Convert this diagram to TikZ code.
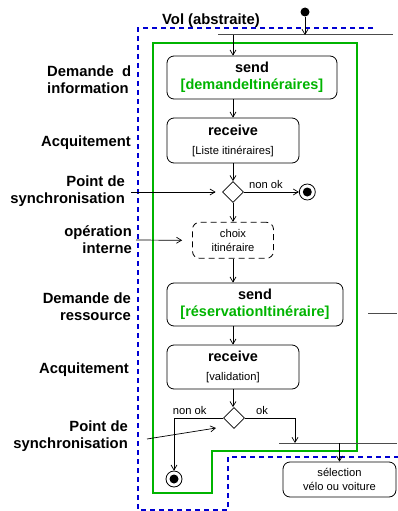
\documentclass[tikz,border=0pt]{standalone}
\usepackage{fontspec}
\setmainfont{Liberation Sans}
\usetikzlibrary{positioning}
\usetikzlibrary{shapes.geometric}
\usetikzlibrary{arrows.meta}
\definecolor{umlgreen}{RGB}{0,180,0}
\definecolor{umlblue}{RGB}{0,0,210}

\begin{document}
\begin{tikzpicture}[x=1pt, y=-1pt,
    every node/.style={inner sep=0pt},
    action/.style={draw, rounded corners=7pt, line width=0.8pt, align=center, font=\fontsize{14.5}{17}\selectfont},
    choice/.style={draw, diamond, minimum width=21pt, minimum height=21pt, line width=0.8pt},
    final/.style={draw, circle, minimum size=16pt, line width=0.8pt, path picture={\fill (path picture bounding box.center) circle (4.5pt);}},
    initial/.style={fill, circle, minimum size=9pt},
    flow/.style={-{Straight Barb[length=5pt,width=6pt]}, line width=0.7pt},
    bar/.style={draw=black!70, line width=1pt},
    lbl/.style={font=\fontsize{14.8}{17}\selectfont\bfseries, align=right, anchor=east},
    note/.style={font=\fontsize{11.2}{14}\selectfont},
    frame/.style={umlgreen, line width=2.5pt},
    swim/.style={umlblue, line width=2.6pt, dash pattern=on 5pt off 4pt}]

    \useasboundingbox (0,0) rectangle (398,511);

    % partitions
    \draw[swim] (373,28) -- (138,28) -- (138,510) -- (228,510) -- (228,457) -- (398,457);
    \draw[frame] (153,43) -- (357,43) -- (357,451) -- (212,451) -- (212,493) -- (153,493) -- cycle;
    \node[font=\fontsize{14.8}{17}\selectfont\bfseries] (vol) at (211,21) {Vol (abstraite)};

    % activity
    \node[initial] (start) at (305,12) {};
    \node[action, minimum width=170pt, minimum height=43pt] (send1) at (252,77.5)
        {\textbf{send}\\{\color{umlgreen}\bfseries [demandeItinéraires]}};
    \node[action, minimum width=132pt, minimum height=45pt] (recv1) at (233,140.5)
        {\textbf{receive}\\[2pt]{\fontsize{11.2}{13}\selectfont [Liste itinéraires]}};
    \node[choice] (d1) at (233,192) {};
    \node[final, right=55pt of d1] (f1) {};
    \node[action, note, dash pattern=on 6pt off 4pt, minimum width=81pt, minimum height=36pt,
        below=19pt of d1] (choix) {choix\\itinéraire};
    \node[action, minimum width=176pt, minimum height=43pt] (send2) at (255,304.5)
        {\textbf{send}\\{\color{umlgreen}\bfseries [réservationItinéraire]}};
    \node[action, minimum width=132pt, minimum height=44pt] (recv2) at (233,367)
        {\textbf{receive}\\[2pt]{\fontsize{11.2}{13}\selectfont [validation]}};
    \node[choice] (d2) at (234,418) {};
    \node[final] (f2) at (174,479) {};
    \node[action, note, minimum width=113pt, minimum height=35pt] (sel) at (339.5,479.5)
        {sélection\\vélo ou voiture};

    % bars
    \coordinate (b1l) at (218,35);
    \coordinate (b1r) at (393,35);
    \coordinate (b2l) at (279,443);
    \coordinate (b2r) at (397,443);
    \coordinate (b2in) at (295,443);
    \draw[bar] (b1l) -- (b1r);
    \draw[bar] (b2l) -- (b2r);
    \draw[bar] (368,313) -- (397,313);

    \draw[flow] (start) -- (start |- b1l);
    \draw[flow] (b1l -| recv1.north) -- (recv1.north |- send1.north);
    \draw[flow] (recv1.north |- send1.south) -- (recv1.north);
    \draw[flow] (recv1.south) -- (d1.north);
    \draw[flow] (d1.east) -- node[note, above=3pt, pos=0.4] {non ok} (f1.west);
    \draw[flow] (d1.south) -- (choix.north);
    \draw[flow] (choix.south) -- (choix.south |- send2.north);
    \draw[flow] (recv2.north |- send2.south) -- (recv2.north);
    \draw[flow] (recv2.south) -- (recv2.south |- d2.north);
    \draw[flow] (d2.west) -| node[note, above=3pt, pos=0.34] {non ok} (f2.north);
    \draw[flow] (d2.east) -| node[note, above=3pt, pos=0.17] {ok} (b2in);
    \draw[flow] (sel.north |- b2l) -- (sel.north);

    % labels
    \node[lbl, align=left, anchor=west] (dinfo) at (47,80) {Demande\ \ d\\information};
    \node[lbl] (acq1) at (131,143) {Acquitement};
    \node[lbl] (ps1) at (125,191) {Point de\\synchronisation};
    \node[lbl] (oi) at (132,240) {opération\\interne};
    \node[lbl] (dres) at (131,307) {Demande de\\ressource};
    \node[lbl] (acq2) at (129,370) {Acquitement};
    \node[lbl] (ps2) at (128,436) {Point de\\synchronisation};

    \coordinate (ps2a) at (147,439);
    \coordinate (ps2b) at (216,428);
    \draw[flow] ([xshift=6pt]ps1.east |- d1.west) -- ([xshift=-6.5pt]d1.west);
    \draw[flow] ([xshift=4pt]oi.east) -- ([xshift=-10pt]choix.west);
    \draw[flow] (ps2a) -- (ps2b);
\end{tikzpicture}
\end{document}
